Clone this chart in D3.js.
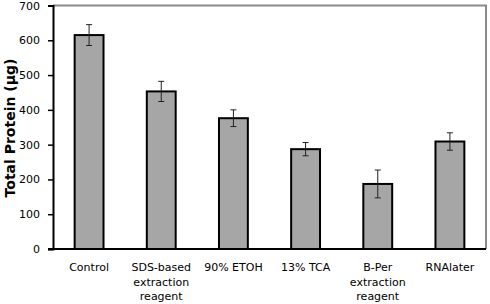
<!DOCTYPE html>
<html>
<head>
<meta charset="utf-8">
<script src="https://cdn.jsdelivr.net/npm/d3@7"></script>
<style>
  body { margin: 0; background: #fff; }
  text { font-family: "DejaVu Sans", Verdana, sans-serif; }
</style>
</head>
<body>
<div id="chart"></div>
<script>
// data
const categories = ["Control", "SDS-based extraction reagent", "90% ETOH", "13% TCA", "B-Per extraction reagent", "RNAlater"];
const labelLines = [["Control"], ["SDS-based", "extraction", "reagent"], ["90% ETOH"], ["13% TCA"], ["B-Per", "extraction", "reagent"], ["RNAlater"]];
const values = [615, 453, 376, 287, 187, 309];
const errors = [30, 29, 24, 19, 40, 25];
const yTicks = [0, 100, 200, 300, 400, 500, 600, 700];

const width = 490, height = 304;
const margin = {top: 5.5, right: 4, bottom: 55, left: 53};

const svg = d3.select("#chart").append("svg")
  .attr("width", width)
  .attr("height", height);

const x = d3.scaleBand()
  .domain(categories)
  .range([margin.left, width - margin.right])
  .paddingInner(0.6)
  .paddingOuter(0.3);

const y = d3.scaleLinear()
  .domain([0, 700])
  .range([height - margin.bottom, margin.top]);

// gray frame on top and right
svg.append("path")
  .attr("d", "M" + margin.left + "," + y(700) + "H" + (width - margin.right) + "V" + y(0))
  .attr("fill", "none")
  .attr("stroke", "#8a8a8a")
  .attr("stroke-width", 2);

// bars
svg.selectAll("rect.bar")
  .data(values)
  .enter()
  .append("rect")
  .attr("class", "bar")
  .attr("x", (d, i) => x(categories[i]))
  .attr("y", d => y(d))
  .attr("width", x.bandwidth())
  .attr("height", d => y(0) - y(d))
  .attr("fill", "#a6a6a6")
  .attr("stroke", "#000")
  .attr("stroke-width", 2);

// error bars
const eb = svg.selectAll("g.err")
  .data(values)
  .enter()
  .append("g")
  .attr("class", "err")
  .attr("stroke", "#222")
  .attr("stroke-width", 1);

eb.append("line")
  .attr("x1", (d, i) => x(categories[i]) + x.bandwidth() / 2)
  .attr("x2", (d, i) => x(categories[i]) + x.bandwidth() / 2)
  .attr("y1", (d, i) => y(d + errors[i]))
  .attr("y2", (d, i) => y(d - errors[i]));

[1, -1].forEach(s => {
  eb.append("line")
    .attr("x1", (d, i) => x(categories[i]) + x.bandwidth() / 2 - 3)
    .attr("x2", (d, i) => x(categories[i]) + x.bandwidth() / 2 + 3)
    .attr("y1", (d, i) => y(d + s * errors[i]))
    .attr("y2", (d, i) => y(d + s * errors[i]));
});

// y axis
const yAxis = svg.append("g")
  .attr("transform", "translate(" + margin.left + ",0)")
  .call(d3.axisLeft(y).tickValues(yTicks).tickSize(5).tickPadding(8));
yAxis.select(".domain").attr("stroke", "#000").attr("stroke-width", 2);
yAxis.selectAll(".tick line").attr("stroke", "#000").attr("stroke-width", 1.5);
yAxis.selectAll(".tick text")
  .attr("font-size", 11)
  .attr("fill", "#000")
  .style("font-family", "'DejaVu Sans', Verdana, sans-serif");

// x axis line
svg.append("line")
  .attr("x1", margin.left - 5)
  .attr("x2", width - margin.right)
  .attr("y1", y(0))
  .attr("y2", y(0))
  .attr("stroke", "#000")
  .attr("stroke-width", 2);

// category labels
const lab = svg.selectAll("text.cat")
  .data(labelLines)
  .enter()
  .append("text")
  .attr("class", "cat")
  .attr("text-anchor", "middle")
  .attr("font-size", 11)
  .attr("fill", "#000")
  .attr("x", (d, i) => x(categories[i]) + x.bandwidth() / 2)
  .attr("y", y(0) + 22);
lab.selectAll("tspan")
  .data(d => d)
  .enter()
  .append("tspan")
  .attr("x", function() { return d3.select(this.parentNode).attr("x"); })
  .attr("dy", (d, i) => i === 0 ? 0 : 14.5)
  .text(d => d);

// y label
svg.append("text")
  .attr("transform", "translate(15," + 128 + ") rotate(-90)")
  .attr("text-anchor", "middle")
  .attr("font-size", 14)
  .attr("font-weight", "bold")
  .attr("fill", "#000")
  .text("Total Protein (µg)");
</script>
</body>
</html>
